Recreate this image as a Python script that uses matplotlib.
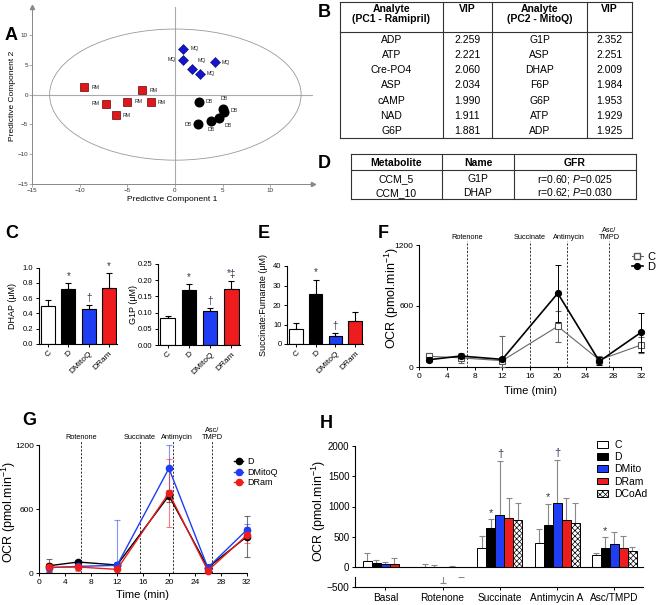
import numpy as np
import matplotlib.pyplot as plt
from matplotlib.patches import Ellipse, Patch
from matplotlib.lines import Line2D
import matplotlib.transforms as mtransforms

plt.rcParams['font.family'] = ['Liberation Sans', 'DejaVu Sans']
plt.rcParams['mathtext.fontset'] = 'custom'
plt.rcParams['mathtext.rm'] = 'Liberation Sans'
plt.rcParams['mathtext.it'] = 'Liberation Sans:italic'
plt.rcParams['mathtext.bf'] = 'Liberation Sans:bold'
plt.rcParams['hatch.linewidth'] = 0.5

W, H = 660, 605
BLUE = '#1f3df2'
RED = '#ee1c1c'
STAR = '#333355'

# ---------------- data ----------------
# A: score plot
rm_x = [-9.5, -7.2, -6.2, -5.0, -3.4, -2.5]
rm_y = [1.2, -1.6, -3.5, -1.3, 0.7, -1.3]
mq_x = [0.8, 0.8, 1.8, 2.6, 4.2]
mq_y = [7.7, 5.8, 4.3, 3.4, 5.4]
db_x = [2.55, 5.1, 5.2, 3.75, 4.65, 2.4]
db_y = [-1.3, -2.4, -3.0, -4.35, -4.0, -5.0]

# B: VIP table
b_header = ['Analyte\n(PC1 - Ramipril)', 'VIP', 'Analyte\n(PC2 - MitoQ)', 'VIP']
b_pc1_names = ['ADP', 'ATP', 'Cre-PO4', 'ASP', 'cAMP', 'NAD', 'G6P']
b_pc1_vip = ['2.259', '2.221', '2.060', '2.034', '1.990', '1.911', '1.881']
b_pc2_names = ['G1P', 'ASP', 'DHAP', 'F6P', 'G6P', 'ATP', 'ADP']
b_pc2_vip = ['2.352', '2.251', '2.009', '1.984', '1.953', '1.929', '1.925']

# D: GFR table
d_header = ['Metabolite', 'Name', 'GFR']
d_metab = ['CCM_5', 'CCM_10']
d_name = ['G1P', 'DHAP']
d_gfr = ['r=0.60; $\\it{P}$=0.025', 'r=0.62; $\\it{P}$=0.030']

# C / E: metabolite bars
grp = ['C', 'D', 'DMitoQ', 'DRam']
dhap = [0.50, 0.72, 0.46, 0.735]
dhap_sem = [0.08, 0.075, 0.045, 0.195]
dhap_marks = ['', '*', '\u2020', '*']
g1p = [0.082, 0.169, 0.104, 0.173]
g1p_sem = [0.008, 0.019, 0.010, 0.025]
g1p_marks = ['', '*', '\u2020', '*\u2021']
succ = [7.9, 25.6, 4.0, 11.7]
succ_sem = [3.1, 7.4, 1.6, 4.8]
succ_marks = ['', '*', '\u2020', '']

# F / G: OCR time course
t = [1.5, 6, 12, 20, 26, 32]
f_c = [105, 90, 62, 400, 70, 216]
f_c_sem = [30, 50, 240, 150, 40, 80]
f_d = [72, 108, 75, 725, 56, 340]
f_d_sem = [25, 20, 20, 280, 40, 190]
f_events = [6.9, 15.95, 21.3, 27.4]
f_event_x = [7.0, 16.0, 21.6, 27.4]
g_d = [68, 103, 75, 725, 50, 340]
g_d_sem = [60, 20, 25, 55, 30, 190]
g_mito = [50, 62, 72, 981, 50, 403]
g_mito_sem = [30, 30, 425, 219, 20, 56]
g_ram = [53, 56, 34, 750, 22, 353]
g_ram_sem = [40, 40, 30, 315, 20, 75]
g_events = [6.45, 15.5, 20.7, 26.65]
g_event_x = [6.43, 15.5, 21.2, 26.65]
event_names = ['Rotenone', 'Succinate', 'Antimycin', 'Asc/\nTMPD']

# H: OCR per substrate
h_groups = ['Basal', 'Rotenone', 'Succinate', 'Antimycin A', 'Asc/TMPD']
h_names = ['C', 'D', 'DMito', 'DRam', 'DCoAd']
h_c = [110, 12, 312, 405, 197]
h_c_sem = [120, 38, 208, 225, 45]
h_d = [70, 8, 641, 696, 312]
h_d_sem = [50, 22, 148, 350, 181]
h_mito = [55, -20, 860, 1057, 384]
h_mito_sem = [40, 424, 893, 713, 202]
h_ram = [60, 5, 805, 778, 312]
h_ram_sem = [90, 15, 340, 367, 198]
h_coad = [np.nan, -20, 773, 729, 274]
h_coad_sem = [np.nan, 315, 279, 323, 66]
h_marks = {(2, 1): '*', (2, 2): '\u2020', (3, 1): '*', (3, 2): '\u2020', (4, 1): '*'}

# ---------------- figure ----------------
fig = plt.figure(figsize=(W / 100, H / 100), dpi=100)


def add_ax(x0, y0, x1, y1):
    return fig.add_axes([x0 / W, 1 - y1 / H, (x1 - x0) / W, (y1 - y0) / H])


def ftext(x, y, s, **kw):
    fig.text(x / W, 1 - y / H, s, **kw)


def clean(ax, lw=0.8):
    ax.spines['top'].set_visible(False)
    ax.spines['right'].set_visible(False)
    ax.spines['left'].set_linewidth(lw)
    ax.spines['bottom'].set_linewidth(lw)
    ax.tick_params(direction='out', length=2.5, width=0.7, pad=1.5)


def noclip(container):
    for art in container.get_children():
        art.set_clip_on(False)


def floor_err(vals, sem):
    # error bars stop at the x axis (OCR cannot be drawn below zero here)
    v = np.array(vals, dtype=float)
    s = np.array(sem, dtype=float)
    return [np.minimum(s, v), s]


# panel letters
for lab, x, y in [('A', 5, 40), ('B', 318, 17), ('D', 318, 168), ('C', 5, 238),
                  ('E', 258, 238), ('F', 378, 238), ('G', 22, 425), ('H', 320, 428)]:
    ftext(x, y, lab, fontsize=13, fontweight='bold', va='baseline')

# ---- A ----
axA = add_ax(32, 7, 313, 184)
axA.set_xlim(-15, 14.5)
axA.set_ylim(-15, 14.7)
for s in ['top', 'right']:
    axA.spines[s].set_visible(False)
for s in ['left', 'bottom']:
    axA.spines[s].set_color('#888888')
    axA.spines[s].set_linewidth(0.7)
axA.set_xticks([-15, -10, -5, 0, 5, 10])
axA.set_yticks([-15, -10, -5, 0, 5, 10])
axA.tick_params(labelsize=4.5, length=2, width=0.5, color='#888888', labelcolor='#333333', pad=1)
axA.axhline(0, color='#aaaaaa', lw=0.8, zorder=0)
axA.axvline(0, color='#aaaaaa', lw=0.8, zorder=0)
axA.add_patch(Ellipse((0.05, 0), 26.4, 22, fill=False, edgecolor='#999999', lw=0.6))
axA.plot(1, 0, '>', transform=axA.transAxes, color='#888888', ms=3, clip_on=False)
axA.plot(0, 1, '^', transform=axA.transAxes, color='#888888', ms=3, clip_on=False)
axA.plot(rm_x, rm_y, 's', color='#e3161b', mec='#5a0a0a', mew=0.5, ms=5.4, ls='none')
axA.plot(mq_x, mq_y, 'D', color='#1515d0', mec='#0a0a60', mew=0.4, ms=4.8, ls='none')
axA.plot(db_x, db_y, 'o', color='black', ms=6.2, ls='none')
rm_off = [(11, 0), (-11, 0.5), (11, 0), (11, 0.5), (11, 0.3), (11, 0)]
mq_off = [(12, 0.5), (-11, 0.3), (10, 8), (11, 1), (11, 0.3)]
db_off = [(10, 0.7), (1, 10), (10, 1.7), (0.5, -8.7), (9, -7.3), (-10, 0.3)]
for xs, ys, offs, name in [(rm_x, rm_y, rm_off, 'RM'), (mq_x, mq_y, mq_off, 'MQ'), (db_x, db_y, db_off, 'DB')]:
    for x, y, (dx, dy) in zip(xs, ys, offs):
        axA.annotate(name, (x, y), xytext=(dx * 0.72, dy * 0.72), textcoords='offset points',
                     ha='center', va='center', fontsize=3.8, color='#222222')
axA.set_xlabel('Predictive Component 1', fontsize=6, labelpad=2)
axA.set_ylabel('Predictive Component 2', fontsize=6, labelpad=1)

# ---- tables B and D (drawn in pixel coordinates) ----
axT = fig.add_axes([0, 0, 1, 1])
axT.set_xlim(0, W)
axT.set_ylim(H, 0)
axT.axis('off')
lc = '#333333'


def hl(y, x0, x1):
    axT.plot([x0, x1], [y, y], color=lc, lw=0.8)


def vl(x, y0, y1):
    axT.plot([x, x], [y0, y1], color=lc, lw=0.8)


b_cols = [340, 443, 492, 587, 632]
b_top, b_head, b_bot = 2, 32, 138
for x in b_cols:
    vl(x, b_top, b_bot)
for y in [b_top, b_head, b_bot]:
    hl(y, b_cols[0], b_cols[-1])
for i, htxt in enumerate(b_header):
    cx = (b_cols[i] + b_cols[i + 1]) / 2
    axT.text(cx, b_top + 1.5, htxt, ha='center', va='top', fontsize=7.5, fontweight='bold',
             linespacing=1.05)
b_cells = [b_pc1_names, b_pc1_vip, b_pc2_names, b_pc2_vip]
row_h = (b_bot - b_head) / len(b_pc1_names)
for i, col in enumerate(b_cells):
    cx = (b_cols[i] + b_cols[i + 1]) / 2
    for r, val in enumerate(col):
        axT.text(cx, b_head + row_h * (r + 0.5) + 0.5, val, ha='center', va='center', fontsize=7.5)

d_cols = [351, 442, 514, 636]
d_top, d_head, d_bot = 154, 170, 199
for x in d_cols:
    vl(x, d_top, d_bot)
for y in [d_top, d_head, d_bot]:
    hl(y, d_cols[0], d_cols[-1])
d_cells = [d_metab, d_name, d_gfr]
for i, htxt in enumerate(d_header):
    cx = (d_cols[i] + d_cols[i + 1]) / 2
    axT.text(cx, (d_top + d_head) / 2 + 0.5, htxt, ha='center', va='center', fontsize=7.5, fontweight='bold')
    for r, val in enumerate(d_cells[i]):
        axT.text(cx, d_head + 9.3 + 13.4 * r, val, ha='center', va='center', fontsize=7.5)

# ---- C / E bar panels ----
bar_colors = ['white', 'black', BLUE, RED]


def bar_panel(rect, vals, sem, ylim, yticks, fmt, marks, ylabel, ylabel_x):
    ax = add_ax(*rect)
    x = np.arange(len(vals))
    ax.bar(x, vals, width=0.68, color=bar_colors, edgecolor='black', linewidth=0.8, zorder=2)
    ax.errorbar(x, vals, yerr=[np.zeros(len(vals)), sem], fmt='none', ecolor='black',
                elinewidth=0.8, capsize=2.2, capthick=0.8, zorder=1)
    for xi, v, s, m in zip(x, vals, sem, marks):
        if m:
            ax.annotate(m, (xi, v + s), xytext=(0, 1.5), textcoords='offset points',
                        ha='center', va='bottom', fontsize=7, color=STAR)
    ax.set_xlim(-0.45, 3.4)
    ax.set_ylim(*ylim)
    ax.set_yticks(yticks)
    ax.set_yticklabels([fmt.format(v) for v in yticks])
    ax.set_xticks(x)
    ax.set_xticklabels(grp, rotation=45, ha='right', va='top', rotation_mode='anchor')
    clean(ax)
    ax.tick_params(labelsize=5.5)
    ax.tick_params(axis='x', labelsize=6)
    cy = (rect[1] + rect[3]) / 2
    ftext(ylabel_x, cy, ylabel, rotation=90, ha='center', va='center', fontsize=6.5)
    return ax


bar_panel((39, 267.5, 117, 344), dhap, dhap_sem, (0, 1.0), [0, 0.2, 0.4, 0.6, 0.8, 1.0], '{:.1f}',
          dhap_marks, 'DHAP (\u03bcM)', 13)
bar_panel((158, 264, 240, 345), g1p, g1p_sem, (0, 0.25), [0, 0.05, 0.10, 0.15, 0.20, 0.25], '{:.2f}',
          g1p_marks, 'G1P (\u03bcM)', 133)
bar_panel((287, 266, 363, 344), succ, succ_sem, (0, 40), [0, 10, 20, 30, 40], '{:.0f}',
          succ_marks, 'Succinate:Fumarate (\u03bcM)', 263)

# ---- F / G time courses ----
ocr_label = 'OCR (pmol.min$^{-1}$)'


def time_axes(rect, events, event_x):
    ax = add_ax(*rect)
    ax.set_xlim(0, 32)
    ax.set_ylim(0, 1200)
    ax.set_xticks(range(0, 33, 4))
    ax.set_yticks([0, 600, 1200])
    clean(ax)
    ax.tick_params(labelsize=6)
    trans = mtransforms.blended_transform_factory(ax.transData, ax.transAxes)
    for ev in events:
        ax.axvline(ev, ymin=0, ymax=1.03, clip_on=False, ls=(0, (2.2, 1.6)), color='#333333', lw=0.7)
    for ex, name in zip(event_x, event_names):
        ax.text(ex, 1.035, name, transform=trans, ha='center', va='bottom', fontsize=5.3,
                linespacing=1.0)
    return ax


axF = time_axes((419, 245, 641, 367), f_events, f_event_x)
noclip(axF.errorbar(t, f_c, yerr=floor_err(f_c, f_c_sem), color='#666666', lw=0.8, marker='s', ms=4,
                    mfc='white', mec='#555555', mew=0.8, capsize=2, elinewidth=0.7, capthick=0.7, zorder=3))
noclip(axF.errorbar(t, f_d, yerr=floor_err(f_d, f_d_sem), color='black', lw=1.2, marker='o', ms=4.2,
                    capsize=2, elinewidth=0.7, capthick=0.7, zorder=4))
ftext(391.7, 298.5, ocr_label, rotation=90, ha='center', va='center', fontsize=9)
ftext(530, 391, 'Time (min)', ha='center', va='center', fontsize=8)
hF = [Line2D([], [], color='#666666', lw=0.8, marker='s', ms=4, mfc='white', mec='#555555'),
      Line2D([], [], color='black', lw=1.2, marker='o', ms=4.2)]
axF.legend(hF, ['C', 'D'], loc='upper left', bbox_to_anchor=(631.5 / W, 1 - 251.5 / H),
           bbox_transform=fig.transFigure, frameon=False, borderpad=0, borderaxespad=0,
           handlelength=1.0, handletextpad=0.4, labelspacing=0.05, fontsize=8)

axG = time_axes((39.3, 445, 246.7, 573), g_events, g_event_x)
for vals, sem, col in [(g_d, g_d_sem, 'black'), (g_mito, g_mito_sem, BLUE), (g_ram, g_ram_sem, RED)]:
    noclip(axG.errorbar(t, vals, yerr=floor_err(vals, sem), fmt='none', ecolor=col, alpha=0.55,
                        elinewidth=0.8, capsize=2.2, capthick=0.8, zorder=2))
    axG.plot(t, vals, color=col, lw=1.0, marker='o', ms=4.5, zorder=3, clip_on=False)
ftext(9, 512, ocr_label, rotation=90, ha='center', va='center', fontsize=9)
ftext(143, 595.5, 'Time (min)', ha='center', va='center', fontsize=8)
hG = [Line2D([], [], color=c, lw=1.0, marker='o', ms=4.5) for c in ['black', BLUE, RED]]
axG.legend(hG, ['D', 'DMitoQ', 'DRam'], loc='upper left', bbox_to_anchor=(234 / W, 1 - 457.5 / H),
           bbox_transform=fig.transFigure, frameon=False, borderpad=0, borderaxespad=0,
           handlelength=1.0, handletextpad=0.45, labelspacing=0.15, fontsize=6.5)

# ---- H: broken-axis grouped bars ----
axH = add_ax(355, 445.7, 643, 567.3)
axL = add_ax(355, 576.7, 643, 586.7)
h_vals = [h_c, h_d, h_mito, h_ram, h_coad]
h_sems = [h_c_sem, h_d_sem, h_mito_sem, h_ram_sem, h_coad_sem]
h_face = ['white', 'black', BLUE, RED, 'white']
h_hatch = [None, None, None, None, 'xxxxxx']
bw = 0.157
gx = np.arange(len(h_groups))
for ax in (axH, axL):
    for j, (vals, sem) in enumerate(zip(h_vals, h_sems)):
        v = np.array(vals, dtype=float)
        s = np.array(sem, dtype=float)
        xs = gx + (j - 2) * bw
        ax.bar(xs, v, width=bw, color=h_face[j], edgecolor='black', linewidth=0.7,
               hatch=h_hatch[j], zorder=2)
        lower = np.where(v < 0, s, 0)
        upper = np.where(v >= 0, s, 0)
        ax.errorbar(xs, v, yerr=[lower, upper], fmt='none', ecolor='#888888', elinewidth=0.8,
                    capsize=2.2, capthick=0.8, zorder=1)
    ax.set_xlim(-0.53, 4.5)
    clean(ax)
for (g, j), m in h_marks.items():
    xs = g + (j - 2) * bw
    top = h_vals[j][g] + h_sems[j][g]
    axH.annotate(m, (xs, top), xytext=(0, 1), textcoords='offset points', ha='center',
                 va='bottom', fontsize=8, color=STAR)
axH.set_ylim(0, 2000)
axH.set_yticks([0, 500, 1000, 1500, 2000])
axH.tick_params(axis='x', bottom=False, labelbottom=False)
axH.tick_params(labelsize=7)
axL.set_ylim(-500, -330)
axL.set_yticks([-500])
axL.set_xticks(gx)
axL.set_xticklabels(h_groups)
axL.tick_params(labelsize=7.3)
axL.tick_params(axis='x', pad=2)
ftext(319, 511.5, ocr_label, rotation=90, ha='center', va='center', fontsize=9)
hH = [Patch(facecolor=h_face[j], edgecolor='black', linewidth=0.7, hatch=h_hatch[j]) for j in range(5)]
axH.legend(hH, h_names, loc='upper left', bbox_to_anchor=(597 / W, 1 - 439.8 / H),
           bbox_transform=fig.transFigure, frameon=False, borderpad=0, borderaxespad=0,
           handlelength=1.05, handleheight=0.65, handletextpad=0.6, labelspacing=0.22, fontsize=7.5)

fig.savefig('out.png', dpi=100)
